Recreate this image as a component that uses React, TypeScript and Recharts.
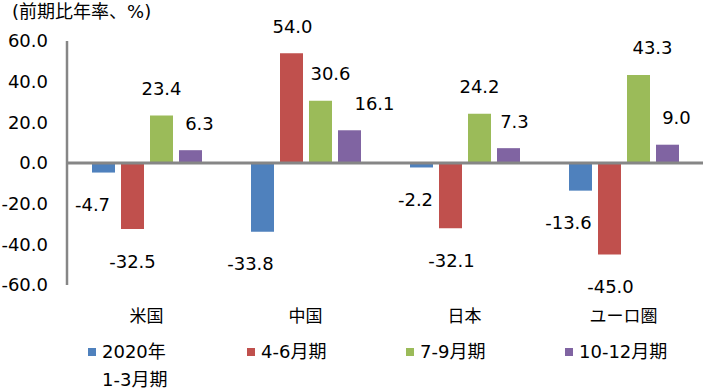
import React from 'react';
import { BarChart, Bar, XAxis, YAxis, ReferenceLine, Legend, LabelList } from 'recharts';

const FONT = "'DejaVu Sans', 'Noto Sans CJK JP', sans-serif";

// regions and quarterly growth (q/q annualised, %)
const regions = ['米国', '中国', '日本', 'ユーロ圏'];
const q1 = [-4.7, -33.8, -2.2, -13.6];
const q2 = [-32.5, 54.0, -32.1, -45.0];
const q3 = [23.4, 30.6, 24.2, 43.3];
const q4 = [6.3, 16.1, 7.3, 9.0];
const yTicks = [-60, -40, -20, 0, 20, 40, 60];

const series = [
  { key: 'q1', name: '2020年\n1-3月期', color: '#4F81BD', values: q1 },
  { key: 'q2', name: '4-6月期', color: '#C0504D', values: q2 },
  { key: 'q3', name: '7-9月期', color: '#9BBB59', values: q3 },
  { key: 'q4', name: '10-12月期', color: '#8064A2', values: q4 },
];

// the original labels were nudged by hand; horizontal shifts in px
const labelShift: Record<string, number[]> = {
  q1: [-11, -12, -6, -12],
  q2: [0, 1, 1, 1],
  q3: [0, 10, 0, 14],
  q4: [9, 25, 6, 9],
};

const data = regions.map((region, i) => {
  const row: Record<string, any> = { region };
  series.forEach(s => { row[s.key] = s.values[i]; });
  return row;
});

const makeLabel = (key: string) => (props: any) => {
  const { x, y, width, height, value, index } = props;
  const v = Number(value);
  const top = Math.min(y, y + height);
  const bottom = Math.max(y, y + height);
  const cx = x + width / 2 + (labelShift[key][index] || 0);
  const cy = v >= 0 ? top - 27 : bottom + 32;
  return (
    <text x={cx} y={cy} textAnchor="middle" dominantBaseline="central" fontSize={18} fill="#000" fontFamily={FONT}>
      {v.toFixed(1)}
    </text>
  );
};

const renderLegend = () => (
  <div style={{ display: 'flex', paddingLeft: 67, fontFamily: FONT, fontSize: 18, lineHeight: '28px', color: '#000' }}>
    {series.map(s => (
      <div key={s.key} style={{ width: 159, display: 'flex', alignItems: 'flex-start', paddingLeft: 21, boxSizing: 'border-box' }}>
        <span style={{ width: 8, height: 8, background: s.color, marginTop: 10, marginRight: 6, flex: 'none' }} />
        <span style={{ whiteSpace: 'pre-line' }}>{s.name}</span>
      </div>
    ))}
  </div>
);

export default function App() {
  return (
    <div style={{ position: 'absolute', left: 0, top: 0, width: 706, height: 392, background: '#fff' }}>
      <div style={{ position: 'absolute', left: 12, top: 0, fontFamily: FONT, fontSize: 18, lineHeight: '24px', color: '#000', zIndex: 2 }}>
        (前期比年率、%)
      </div>
      <BarChart width={706} height={392} data={data} margin={{ top: 41, right: 3, left: 0, bottom: 0 }} barSize={23} barGap={6}>
        <XAxis
          dataKey="region"
          axisLine={false}
          tickLine={false}
          tickSize={0}
          tickMargin={0}
          height={53}
          tick={({ x, y, payload }: any) => (
            <text x={x} y={y + 31} textAnchor="middle" dominantBaseline="central" fontSize={17} fill="#000" fontFamily={FONT}>
              {payload.value}
            </text>
          )}
        />
        <YAxis
          domain={[-60, 60]}
          ticks={yTicks}
          width={67}
          tickLine={false}
          tickSize={0}
          tickMargin={19}
          axisLine={{ stroke: '#868686', strokeWidth: 2.5 }}
          tickFormatter={(v: number) => v.toFixed(1)}
          tick={{ fontSize: 18, fill: '#000', fontFamily: FONT }}
        />
        {series.map(s => (
          <Bar key={s.key} dataKey={s.key} name={s.name} fill={s.color} isAnimationActive={false}>
            <LabelList dataKey={s.key} content={makeLabel(s.key)} />
          </Bar>
        ))}
        <ReferenceLine y={0} stroke="#868686" strokeWidth={3} />
        <Legend
          content={renderLegend}
          wrapperStyle={{ left: 0, top: 338, width: 706, height: 54 }}
        />
      </BarChart>
    </div>
  );
}
